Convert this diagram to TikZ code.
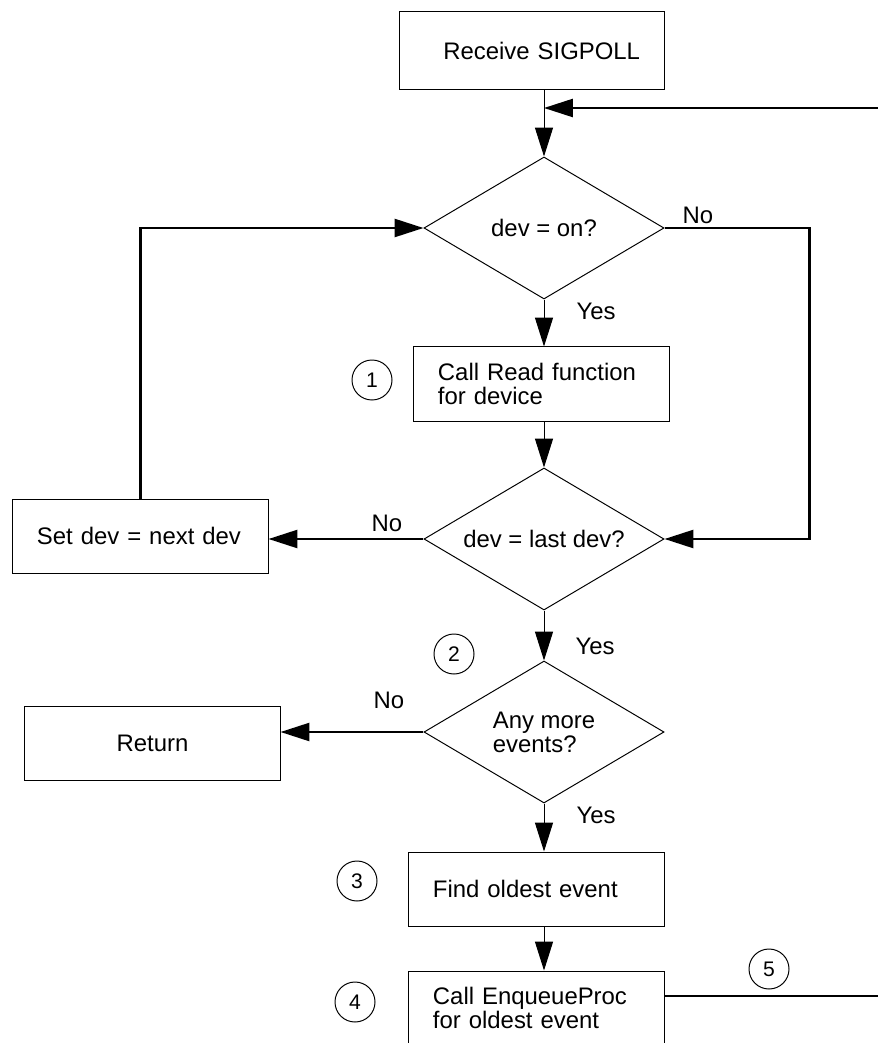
\documentclass[tikz,border=0pt]{standalone}
\usepackage{fontspec}
\setmainfont{Liberation Sans}
\usepackage{tikz}
\usetikzlibrary{
    positioning,
    arrows.meta,
    shapes.geometric
}

\tikzset{
    stepbox/.style={draw, line width=0.7pt, minimum height=1.85cm,
        text width=5.175cm, inner xsep=0.6cm, align=left},
    decision/.style={draw, line width=0.7pt, diamond, aspect=1.69,
        inner sep=0pt, minimum width=6cm, minimum height=3.55cm, align=center},
    marker/.style={draw, circle, line width=0.7pt, minimum size=1cm,
        inner sep=0pt, font=\fontsize{15}{15}\selectfont},
    flow/.style={->, line width=0.7pt},
    backflow/.style={->, line width=1.6pt}
}

\begin{document}
\begin{tikzpicture}[x=0.025cm, y=-0.025cm, >={Triangle[length=0.72cm, width=0.45cm]},
        font=\fontsize{17}{17}\selectfont]
        \useasboundingbox (0,0) rectangle (878,1043);
        \clip (0,0) rectangle (878,1043);

        \node[stepbox, minimum height=1.925cm, text width=5.4cm, align=right] (recv) at (532,50.5) {Receive SIGPOLL};
        \node[decision] (on) at (544,228) {dev = on?};
        \node[stepbox] (read) at (541.5,384) {Call Read function\\for device};
        \node[decision] (last) at (544,539) {dev = last dev?};
        \node[stepbox] (next) at (140.5,536) {Set dev = next dev};
        \node[decision, align=left] (more) at (544,732) {Any more\\events?};
        \node[stepbox, align=center] (ret) at (152.5,743) {Return};
        \node[stepbox] (find) at (536.5,889) {Find oldest event};
        \node[stepbox] (enq) at (536.5,1008) {Call EnqueueProc\\for oldest event};

        \node[marker] (m1) at (372,380) {1};
        \node[marker] (m2) at (454,654) {2};
        \node[marker] (m3) at (357,881) {3};
        \node[marker] (m4) at (355,1002) {4};
        \node[marker] (m5) at (769,969) {5};

        \node (onno) at (698,215) {No};
        \node (onyes) at (596,311) {Yes};
        \node (lastno) at (387,523) {No};
        \node (lastyes) at (595,646) {Yes};
        \node (moreno) at (389,700) {No};
        \node (moreyes) at (596,815) {Yes};

        \coordinate (backin) at (878,108);
        \coordinate (join) at (544,108);
        \coordinate (enqout) at (878,996);

        \draw[flow] (recv.south -| on.north) -- (on.north);
        \draw[backflow] (backin) -- (join);
        \draw[flow] (on.south) -- (on.south |- read.north);
        \draw[flow] (read.south -| last.north) -- (last.north);
        \draw[flow] (last.south) -- (more.north);
        \draw[flow] (more.south) -- (more.south |- find.north);
        \draw[flow] (find.south -| more.south) -- (more.south |- enq.north);

        \draw[backflow] (on.east) -- ++(145,0) |- (last.east);
        \draw[backflow] (last.west) -- (last.west -| next.east);
        \draw[backflow] (next.north) |- (on.west);
        \draw[backflow] (more.west) -- (more.west -| ret.east);
        \draw[backflow, -] (enq.east |- enqout) -- (enqout);
    \end{tikzpicture}
\end{document}
